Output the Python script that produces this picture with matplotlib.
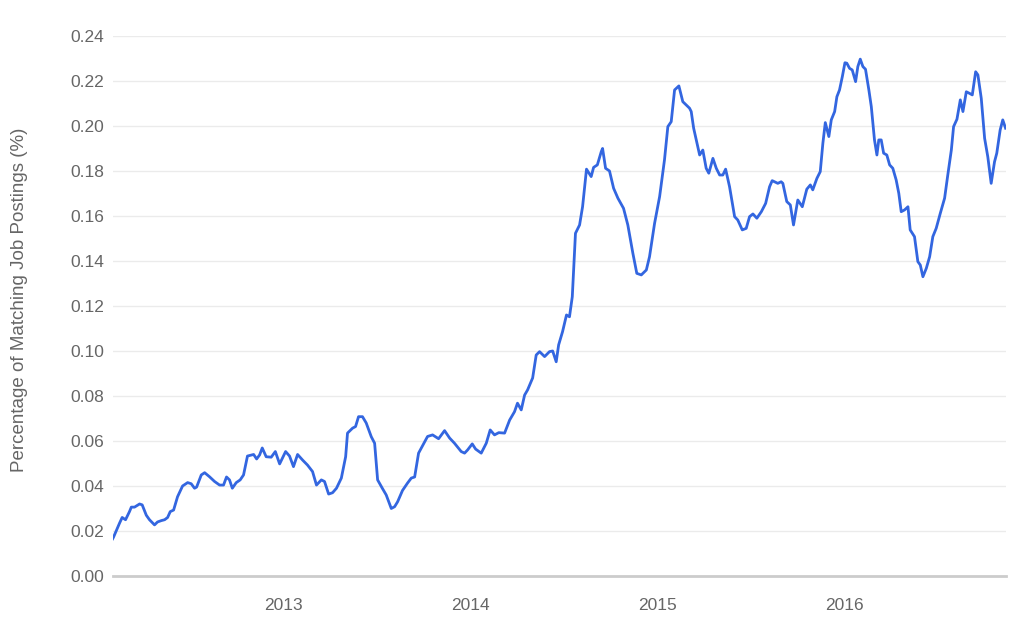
import matplotlib
matplotlib.use("Agg")
import matplotlib.pyplot as plt
import numpy as np

# decimal year of each reading, and share of job postings (%)
years = [
    2012.086, 2012.091, 2012.123, 2012.137, 2012.155, 2012.176, 2012.186, 2012.203, 2012.230, 2012.244,
    2012.266, 2012.283, 2012.310, 2012.326, 2012.346, 2012.364, 2012.380, 2012.394, 2012.412, 2012.433,
    2012.460, 2012.487, 2012.506, 2012.524, 2012.535, 2012.560, 2012.578, 2012.604, 2012.631, 2012.658,
    2012.679, 2012.695, 2012.711, 2012.726, 2012.747, 2012.768, 2012.786, 2012.807, 2012.840, 2012.856,
    2012.872, 2012.886, 2012.907, 2012.934, 2012.956, 2012.979, 2013.011, 2013.032, 2013.053, 2013.075,
    2013.102, 2013.128, 2013.155, 2013.176, 2013.202, 2013.219, 2013.241, 2013.262, 2013.283, 2013.309,
    2013.332, 2013.342, 2013.369, 2013.385, 2013.401, 2013.422, 2013.442, 2013.469, 2013.487, 2013.503,
    2013.528, 2013.549, 2013.576, 2013.594, 2013.610, 2013.636, 2013.663, 2013.683, 2013.701, 2013.722,
    2013.770, 2013.797, 2013.829, 2013.861, 2013.888, 2013.914, 2013.950, 2013.968, 2013.984, 2014.009,
    2014.027, 2014.057, 2014.084, 2014.105, 2014.128, 2014.151, 2014.182, 2014.209, 2014.235, 2014.251,
    2014.271, 2014.289, 2014.305, 2014.332, 2014.351, 2014.369, 2014.396, 2014.422, 2014.439, 2014.458,
    2014.471, 2014.492, 2014.513, 2014.529, 2014.544, 2014.561, 2014.583, 2014.599, 2014.620, 2014.645,
    2014.658, 2014.678, 2014.699, 2014.706, 2014.722, 2014.743, 2014.765, 2014.788, 2014.818, 2014.841,
    2014.868, 2014.889, 2014.913, 2014.940, 2014.957, 2014.984, 2015.011, 2015.037, 2015.055, 2015.073,
    2015.091, 2015.114, 2015.135, 2015.171, 2015.180, 2015.193, 2015.207, 2015.225, 2015.242, 2015.260,
    2015.274, 2015.296, 2015.314, 2015.332, 2015.349, 2015.364, 2015.385, 2015.412, 2015.429, 2015.453,
    2015.474, 2015.492, 2015.510, 2015.531, 2015.555, 2015.578, 2015.599, 2015.613, 2015.643, 2015.661,
    2015.670, 2015.691, 2015.710, 2015.727, 2015.750, 2015.774, 2015.798, 2015.817, 2015.830, 2015.852,
    2015.870, 2015.884, 2015.897, 2015.916, 2015.929, 2015.947, 2015.959, 2015.973, 2015.988, 2016.002,
    2016.012, 2016.027, 2016.041, 2016.059, 2016.071, 2016.084, 2016.098, 2016.112, 2016.130, 2016.143,
    2016.160, 2016.173, 2016.183, 2016.196, 2016.209, 2016.226, 2016.241, 2016.258, 2016.276, 2016.290,
    2016.303, 2016.321, 2016.339, 2016.351, 2016.374, 2016.392, 2016.405, 2016.419, 2016.437, 2016.455,
    2016.472, 2016.490, 2016.512, 2016.535, 2016.552, 2016.571, 2016.583, 2016.601, 2016.619, 2016.633,
    2016.651, 2016.668, 2016.683, 2016.701, 2016.713, 2016.731, 2016.749, 2016.766, 2016.784, 2016.802,
    2016.814, 2016.832, 2016.846, 2016.861,
]
share = [
    0.0165, 0.0173, 0.0235, 0.0260, 0.0250, 0.0286, 0.0306, 0.0306, 0.0320, 0.0316,
    0.0270, 0.0250, 0.0227, 0.0240, 0.0246, 0.0250, 0.0260, 0.0286, 0.0293, 0.0352,
    0.0400, 0.0415, 0.0410, 0.0390, 0.0395, 0.0449, 0.0459, 0.0441, 0.0420, 0.0404,
    0.0404, 0.0440, 0.0427, 0.0390, 0.0415, 0.0427, 0.0449, 0.0533, 0.0540, 0.0520,
    0.0538, 0.0569, 0.0530, 0.0528, 0.0553, 0.0498, 0.0553, 0.0533, 0.0486, 0.0540,
    0.0515, 0.0493, 0.0464, 0.0404, 0.0427, 0.0420, 0.0364, 0.0370, 0.0390, 0.0435,
    0.0530, 0.0635, 0.0657, 0.0664, 0.0708, 0.0708, 0.0680, 0.0619, 0.0590, 0.0427,
    0.0390, 0.0360, 0.0300, 0.0308, 0.0330, 0.0380, 0.0413, 0.0435, 0.0440, 0.0546,
    0.0620, 0.0627, 0.0610, 0.0646, 0.0613, 0.0590, 0.0553, 0.0546, 0.0560, 0.0587,
    0.0564, 0.0546, 0.0590, 0.0649, 0.0627, 0.0637, 0.0635, 0.0693, 0.0730, 0.0768,
    0.0738, 0.0804, 0.0827, 0.0880, 0.0982, 0.0997, 0.0975, 0.0997, 0.1000, 0.0952,
    0.1027, 0.1086, 0.1160, 0.1152, 0.1241, 0.1523, 0.1560, 0.1641, 0.1808, 0.1775,
    0.1816, 0.1827, 0.1886, 0.1900, 0.1812, 0.1800, 0.1723, 0.1679, 0.1634, 0.1560,
    0.1434, 0.1345, 0.1338, 0.1360, 0.1419, 0.1567, 0.1686, 0.1849, 0.1997, 0.2019,
    0.2160, 0.2178, 0.2108, 0.2079, 0.2064, 0.1990, 0.1938, 0.1871, 0.1893, 0.1812,
    0.1790, 0.1856, 0.1812, 0.1782, 0.1782, 0.1808, 0.1730, 0.1597, 0.1582, 0.1538,
    0.1545, 0.1597, 0.1609, 0.1590, 0.1619, 0.1656, 0.1730, 0.1757, 0.1745, 0.1752,
    0.1745, 0.1664, 0.1649, 0.1560, 0.1671, 0.1641, 0.1719, 0.1738, 0.1716, 0.1767,
    0.1797, 0.1923, 0.2015, 0.1953, 0.2027, 0.2064, 0.2130, 0.2160, 0.2219, 0.2281,
    0.2279, 0.2256, 0.2249, 0.2197, 0.2264, 0.2297, 0.2264, 0.2252, 0.2160, 0.2086,
    0.1938, 0.1871, 0.1938, 0.1938, 0.1879, 0.1871, 0.1827, 0.1812, 0.1760, 0.1701,
    0.1619, 0.1627, 0.1641, 0.1538, 0.1508, 0.1397, 0.1382, 0.1330, 0.1367, 0.1419,
    0.1508, 0.1545, 0.1612, 0.1679, 0.1782, 0.1893, 0.1997, 0.2030, 0.2116, 0.2064,
    0.2152, 0.2145, 0.2138, 0.2241, 0.2227, 0.2123, 0.1945, 0.1863, 0.1745, 0.1841,
    0.1879, 0.1982, 0.2027, 0.1990,
]
year_ticks = [2013, 2014, 2015, 2016]
y_ticks = [0.00, 0.02, 0.04, 0.06, 0.08, 0.10, 0.12, 0.14, 0.16, 0.18, 0.20, 0.22, 0.24]

plt.rcParams['font.family'] = ['Liberation Sans', 'DejaVu Sans']
text_color = '#666666'

fig = plt.figure(figsize=(10.24, 6.31), dpi=100)
ax = fig.add_axes([0.110, 0.0872, 0.872, 0.8558])

ax.plot(years, share, color='#3366e0', linewidth=2.0, solid_joinstyle='round', zorder=3)

ax.set_xlim(years[0], years[-1])
ax.set_ylim(0, 0.24)
ax.set_yticks(y_ticks)
ax.set_yticklabels([f'{v:.2f}' for v in y_ticks])
ax.set_xticks(year_ticks)
ax.set_xticklabels([str(y) for y in year_ticks])

ax.grid(axis='y', color='#ebebeb', linewidth=1.0, zorder=0)
ax.grid(axis='x', visible=False)
ax.axhline(0, color='#cccccc', linewidth=2.0, zorder=2, clip_on=False)

for side in ['top', 'right', 'left', 'bottom']:
    ax.spines[side].set_visible(False)

ax.tick_params(axis='y', length=0, pad=6, labelsize=12.5, labelcolor=text_color)
ax.tick_params(axis='x', length=0, pad=16, labelsize=12.5, labelcolor=text_color)

ax.set_ylabel('Percentage of Matching Job Postings (%)', fontsize=13.5, color=text_color)
ax.yaxis.set_label_coords(-0.095, 0.512)

fig.savefig('out.png', dpi=100)
